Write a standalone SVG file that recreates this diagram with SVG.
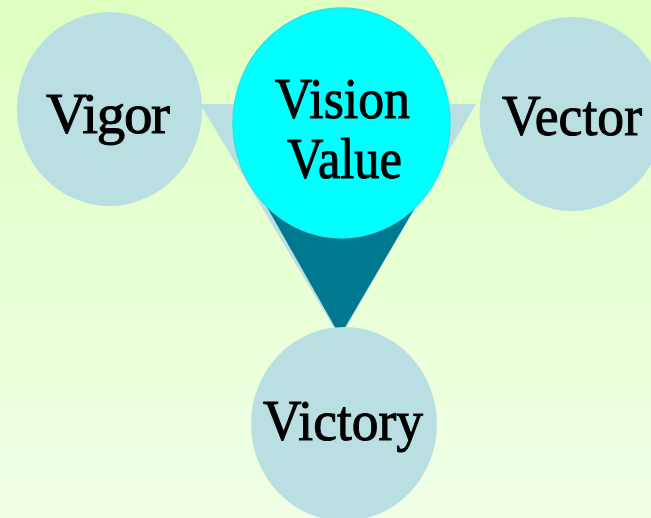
<svg xmlns="http://www.w3.org/2000/svg" width="651" height="518" viewBox="0 0 651 518">
  <defs>
    <linearGradient id="bg" x1="0" y1="0" x2="0" y2="1">
      <stop offset="0" stop-color="#deffc0"/>
      <stop offset="1" stop-color="#f1ffe6"/>
    </linearGradient>
    <style>
      .node { fill: #b9dfe3; }
      .label { font-family: "Liberation Serif", "Times New Roman", serif; font-size: 57px; fill: #000; stroke: #000; stroke-width: 1; text-anchor: middle; }
    </style>
  </defs>
  <rect x="0" y="0" width="651" height="518" fill="url(#bg)"/>
  <g id="connectors">
    <polygon points="200,104 476,104 340,338" fill="#b9dfe3"/>
    <polygon points="246,170 437,170 340,336" fill="#00788f"/>
  </g>
  <g id="vigor">
    <ellipse class="node" cx="109.5" cy="109" rx="92.5" ry="97"/>
    <text class="label" x="108" y="133" textLength="124" lengthAdjust="spacing">Vigor</text>
  </g>
  <g id="vector">
    <ellipse class="node" cx="572" cy="114" rx="92.5" ry="97"/>
    <text class="label" x="572" y="135" textLength="140" lengthAdjust="spacingAndGlyphs">Vector</text>
  </g>
  <g id="victory">
    <ellipse class="node" cx="344" cy="424" rx="93" ry="97"/>
    <text class="label" x="343" y="440" textLength="160" lengthAdjust="spacingAndGlyphs">Victory</text>
  </g>
  <g id="vision-value">
    <ellipse cx="341.5" cy="123" rx="108.5" ry="115" fill="#00ffff" stroke="#22e6f0" stroke-width="1.5"/>
    <text class="label" x="342.5" y="118" textLength="135" lengthAdjust="spacingAndGlyphs">Vision</text>
    <text class="label" x="344.5" y="178" textLength="115" lengthAdjust="spacingAndGlyphs">Value</text>
  </g>
</svg>
